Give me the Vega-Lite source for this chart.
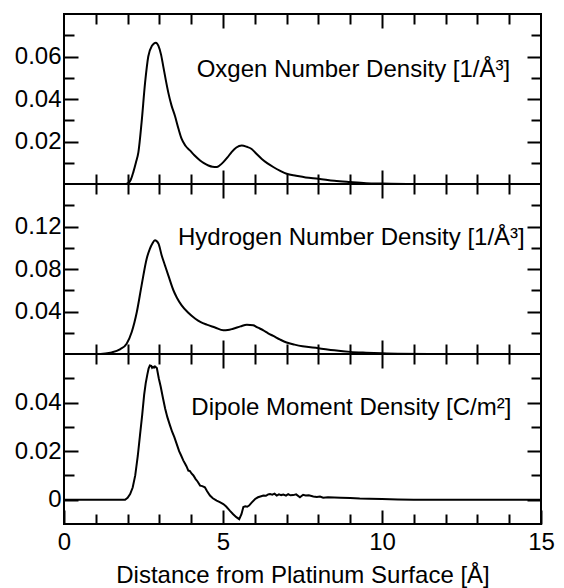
{
  "$schema": "https://vega.github.io/schema/vega-lite/v6.json",
  "padding": {"left": 13, "top": 12, "right": 0, "bottom": 0},
  "spacing": 0,
  "bounds": "flush",
  "config": {
    "view": {"stroke": "black", "strokeWidth": 2},
    "font": "Liberation Sans",
    "axis": {"domain": false, "grid": false, "tickColor": "black", "tickWidth": 2, "labelColor": "black", "labelFont": "Liberation Sans", "labelFontSize": 24, "titleFont": "Liberation Sans", "titleFontSize": 24, "titleFontWeight": "normal", "titleColor": "black", "labelOverlap": false, "labelFlush": false}
  },
  "datasets": {
    "oxygen": [
      {"x": 0, "v": 0}, {"x": 1, "v": 0}, {"x": 1.9, "v": 0}, {"x": 2.0, "v": 0.0003}, {"x": 2.1, "v": 0.002}, {"x": 2.18, "v": 0.0056}, {"x": 2.26, "v": 0.010}, {"x": 2.34, "v": 0.015}, {"x": 2.44, "v": 0.029}, {"x": 2.55, "v": 0.0477}, {"x": 2.65, "v": 0.060}, {"x": 2.76, "v": 0.0649}, {"x": 2.89, "v": 0.0665}, {"x": 2.97, "v": 0.065}, {"x": 3.05, "v": 0.061}, {"x": 3.12, "v": 0.0555}, {"x": 3.2, "v": 0.049}, {"x": 3.28, "v": 0.043}, {"x": 3.38, "v": 0.037}, {"x": 3.49, "v": 0.032}, {"x": 3.6, "v": 0.026}, {"x": 3.7, "v": 0.0212}, {"x": 3.82, "v": 0.018}, {"x": 3.96, "v": 0.0158}, {"x": 4.1, "v": 0.0135}, {"x": 4.28, "v": 0.0111}, {"x": 4.4, "v": 0.0098}, {"x": 4.54, "v": 0.0087}, {"x": 4.67, "v": 0.0081}, {"x": 4.8, "v": 0.008}, {"x": 4.9, "v": 0.0088}, {"x": 5.01, "v": 0.0103}, {"x": 5.14, "v": 0.0125}, {"x": 5.27, "v": 0.015}, {"x": 5.42, "v": 0.0172}, {"x": 5.59, "v": 0.0181}, {"x": 5.75, "v": 0.0175}, {"x": 5.9, "v": 0.0165}, {"x": 6.05, "v": 0.0142}, {"x": 6.22, "v": 0.0118}, {"x": 6.4, "v": 0.0097}, {"x": 6.58, "v": 0.008}, {"x": 6.8, "v": 0.0062}, {"x": 7.0, "v": 0.0048}, {"x": 7.3, "v": 0.0039}, {"x": 7.6, "v": 0.0031}, {"x": 8.0, "v": 0.0025}, {"x": 8.5, "v": 0.0015}, {"x": 9.0, "v": 0.0009}, {"x": 9.5, "v": 0.0004}, {"x": 10.0, "v": 0.0002}, {"x": 11.0, "v": 0}, {"x": 15, "v": 0}
    ],
    "hydrogen": [
      {"x": 0, "v": 0}, {"x": 1.0, "v": 0}, {"x": 1.3, "v": 0.0005}, {"x": 1.5, "v": 0.0015}, {"x": 1.76, "v": 0.0044}, {"x": 1.97, "v": 0.0097}, {"x": 2.13, "v": 0.0207}, {"x": 2.29, "v": 0.0395}, {"x": 2.44, "v": 0.0646}, {"x": 2.6, "v": 0.0897}, {"x": 2.7, "v": 0.099}, {"x": 2.78, "v": 0.104}, {"x": 2.86, "v": 0.107}, {"x": 2.97, "v": 0.104}, {"x": 3.07, "v": 0.093}, {"x": 3.18, "v": 0.083}, {"x": 3.28, "v": 0.074}, {"x": 3.44, "v": 0.06}, {"x": 3.55, "v": 0.053}, {"x": 3.7, "v": 0.0458}, {"x": 3.9, "v": 0.039}, {"x": 4.13, "v": 0.0332}, {"x": 4.3, "v": 0.03}, {"x": 4.49, "v": 0.0276}, {"x": 4.75, "v": 0.025}, {"x": 5.01, "v": 0.0223}, {"x": 5.15, "v": 0.0225}, {"x": 5.32, "v": 0.0238}, {"x": 5.55, "v": 0.026}, {"x": 5.75, "v": 0.0276}, {"x": 5.95, "v": 0.027}, {"x": 6.1, "v": 0.0248}, {"x": 6.27, "v": 0.0223}, {"x": 6.42, "v": 0.0195}, {"x": 6.58, "v": 0.017}, {"x": 6.8, "v": 0.0135}, {"x": 7.0, "v": 0.0108}, {"x": 7.25, "v": 0.0088}, {"x": 7.5, "v": 0.0072}, {"x": 8.0, "v": 0.0055}, {"x": 8.5, "v": 0.0035}, {"x": 9.0, "v": 0.002}, {"x": 9.5, "v": 0.0012}, {"x": 10.0, "v": 0.0006}, {"x": 10.5, "v": 0.0002}, {"x": 11.5, "v": 0}, {"x": 15, "v": 0}
    ],
    "dipole": [
      {"x": 0, "v": 0}, {"x": 1.92, "v": 0}, {"x": 2.0, "v": 0.0008}, {"x": 2.08, "v": 0.0023}, {"x": 2.16, "v": 0.005}, {"x": 2.24, "v": 0.01}, {"x": 2.32, "v": 0.018}, {"x": 2.39, "v": 0.0266}, {"x": 2.46, "v": 0.035}, {"x": 2.52, "v": 0.0432}, {"x": 2.57, "v": 0.048}, {"x": 2.62, "v": 0.0515}, {"x": 2.66, "v": 0.054}, {"x": 2.7, "v": 0.0553}, {"x": 2.74, "v": 0.0551}, {"x": 2.77, "v": 0.0543}, {"x": 2.8, "v": 0.0547}, {"x": 2.83, "v": 0.0544}, {"x": 2.86, "v": 0.0549}, {"x": 2.92, "v": 0.0542}, {"x": 2.98, "v": 0.05}, {"x": 3.04, "v": 0.0466}, {"x": 3.11, "v": 0.042}, {"x": 3.18, "v": 0.0376}, {"x": 3.25, "v": 0.034}, {"x": 3.33, "v": 0.0307}, {"x": 3.4, "v": 0.028}, {"x": 3.47, "v": 0.0258}, {"x": 3.54, "v": 0.0231}, {"x": 3.62, "v": 0.02}, {"x": 3.68, "v": 0.0183}, {"x": 3.75, "v": 0.0162}, {"x": 3.8, "v": 0.015}, {"x": 3.85, "v": 0.0138}, {"x": 3.91, "v": 0.012}, {"x": 3.96, "v": 0.0118}, {"x": 4.01, "v": 0.0108}, {"x": 4.07, "v": 0.01}, {"x": 4.14, "v": 0.0085}, {"x": 4.2, "v": 0.0075}, {"x": 4.28, "v": 0.0058}, {"x": 4.35, "v": 0.0056}, {"x": 4.43, "v": 0.0051}, {"x": 4.5, "v": 0.0035}, {"x": 4.59, "v": 0.0017}, {"x": 4.68, "v": 0.0006}, {"x": 4.8, "v": -0.0004}, {"x": 4.9, "v": -0.001}, {"x": 5.01, "v": -0.0018}, {"x": 5.1, "v": -0.0028}, {"x": 5.22, "v": -0.0046}, {"x": 5.32, "v": -0.006}, {"x": 5.42, "v": -0.0072}, {"x": 5.51, "v": -0.008}, {"x": 5.58, "v": -0.006}, {"x": 5.64, "v": -0.003}, {"x": 5.7, "v": -0.0027}, {"x": 5.76, "v": -0.0029}, {"x": 5.82, "v": -0.0024}, {"x": 5.9, "v": -0.0012}, {"x": 6.01, "v": 0.0003}, {"x": 6.1, "v": 0.001}, {"x": 6.2, "v": 0.0014}, {"x": 6.27, "v": 0.0017}, {"x": 6.35, "v": 0.0016}, {"x": 6.42, "v": 0.0022}, {"x": 6.48, "v": 0.0023}, {"x": 6.55, "v": 0.0021}, {"x": 6.62, "v": 0.0025}, {"x": 6.69, "v": 0.0017}, {"x": 6.76, "v": 0.0022}, {"x": 6.83, "v": 0.0019}, {"x": 6.9, "v": 0.0021}, {"x": 6.98, "v": 0.0017}, {"x": 7.05, "v": 0.0023}, {"x": 7.12, "v": 0.0018}, {"x": 7.21, "v": 0.0019}, {"x": 7.3, "v": 0.0022}, {"x": 7.42, "v": 0.001}, {"x": 7.48, "v": 0.0016}, {"x": 7.52, "v": 0.002}, {"x": 7.6, "v": 0.0017}, {"x": 7.7, "v": 0.0018}, {"x": 7.84, "v": 0.0013}, {"x": 7.95, "v": 0.0011}, {"x": 8.05, "v": 0.0013}, {"x": 8.15, "v": 0.0008}, {"x": 8.3, "v": 0.001}, {"x": 8.5, "v": 0.0009}, {"x": 8.7, "v": 0.0008}, {"x": 9.0, "v": 0.0007}, {"x": 9.3, "v": 0.0005}, {"x": 9.6, "v": 0.0004}, {"x": 10.0, "v": 0.0003}, {"x": 10.5, "v": 0.0001}, {"x": 11.0, "v": 0}, {"x": 15, "v": 0}
    ]
  },
  "vconcat": [
    {
      "width": 477, "height": 170,
      "layer": [
        {
          "data": {"name": "oxygen"},
          "mark": {"type": "line", "color": "black", "strokeWidth": 2, "interpolate": "monotone", "clip": true},
          "encoding": {
            "x": {"field": "x", "type": "quantitative", "scale": {"domain": [0, 15], "nice": false, "zero": false},
                  "axis": {"orient": "bottom", "values": [1,2,3,4,5,6,7,8,9,10,11,12,13,14], "labels": false, "title": null,
                           "tickSize": {"condition": {"test": "datum.value % 5 === 0", "value": -14}, "value": -10}}},
            "y": {"field": "v", "type": "quantitative", "scale": {"domain": [0, 0.08], "nice": false, "zero": false},
                  "axis": {"orient": "left", "values": [0.01,0.02,0.03,0.04,0.05,0.06,0.07], "title": null, "labelPadding": 17,
                           "labelExpr": "round(datum.value*100) % 2 === 0 ? format(datum.value, '.2f') : ''",
                           "tickSize": {"condition": {"test": "round(datum.value*100) % 2 === 0", "value": -14}, "value": -10}}}
          }
        },
        {
          "data": {"name": "oxygen"},
          "mark": {"type": "line", "opacity": 0},
          "encoding": {
            "x": {"field": "x", "type": "quantitative",
                  "axis": {"orient": "top", "values": [1,2,3,4,5,6,7,8,9,10,11,12,13,14], "labels": false, "title": null,
                           "tickSize": {"condition": {"test": "datum.value % 5 === 0", "value": -14}, "value": -10}}},
            "y": {"field": "v", "type": "quantitative",
                  "axis": {"orient": "right", "values": [0.01,0.02,0.03,0.04,0.05,0.06,0.07], "title": null, "labels": false,
                           "tickSize": {"condition": {"test": "round(datum.value*100) % 2 === 0", "value": -14}, "value": -10}}}
          }
        },
        {
          "data": {"values": [{"label": "Oxgen Number Density [1/Å³]"}]},
          "mark": {"type": "text", "align": "right", "baseline": "alphabetic", "fontSize": 24, "font": "Liberation Sans", "color": "black"},
          "encoding": {
            "x": {"datum": 14.03, "type": "quantitative", "axis": null},
            "y": {"datum": 0.0505, "type": "quantitative", "axis": null},
            "text": {"field": "label"}
          }
        }
      ],
      "resolve": {"axis": {"x": "independent", "y": "independent"}}
    },
    {
      "width": 477, "height": 170,
      "layer": [
        {
          "data": {"name": "hydrogen"},
          "mark": {"type": "line", "color": "black", "strokeWidth": 2, "interpolate": "monotone", "clip": true},
          "encoding": {
            "x": {"field": "x", "type": "quantitative", "scale": {"domain": [0, 15], "nice": false, "zero": false},
                  "axis": {"orient": "bottom", "values": [1,2,3,4,5,6,7,8,9,10,11,12,13,14], "labels": false, "title": null,
                           "tickSize": {"condition": {"test": "datum.value % 5 === 0", "value": -14}, "value": -10}}},
            "y": {"field": "v", "type": "quantitative", "scale": {"domain": [0, 0.16], "nice": false, "zero": false},
                  "axis": {"orient": "left", "values": [0.02,0.04,0.06,0.08,0.1,0.12,0.14], "title": null, "labelPadding": 17,
                           "labelExpr": "round(datum.value*100) % 4 === 0 ? format(datum.value, '.2f') : ''",
                           "tickSize": {"condition": {"test": "round(datum.value*100) % 4 === 0", "value": -14}, "value": -10}}}
          }
        },
        {
          "data": {"name": "hydrogen"},
          "mark": {"type": "line", "opacity": 0},
          "encoding": {
            "x": {"field": "x", "type": "quantitative",
                  "axis": {"orient": "top", "values": [1,2,3,4,5,6,7,8,9,10,11,12,13,14], "labels": false, "title": null,
                           "tickSize": {"condition": {"test": "datum.value % 5 === 0", "value": -14}, "value": -10}}},
            "y": {"field": "v", "type": "quantitative",
                  "axis": {"orient": "right", "values": [0.02,0.04,0.06,0.08,0.1,0.12,0.14], "title": null, "labels": false,
                           "tickSize": {"condition": {"test": "round(datum.value*100) % 4 === 0", "value": -14}, "value": -10}}}
          }
        },
        {
          "data": {"values": [{"label": "Hydrogen Number Density [1/Å³]"}]},
          "mark": {"type": "text", "align": "right", "baseline": "alphabetic", "fontSize": 24, "font": "Liberation Sans", "color": "black"},
          "encoding": {
            "x": {"datum": 14.49, "type": "quantitative", "axis": null},
            "y": {"datum": 0.1023, "type": "quantitative", "axis": null},
            "text": {"field": "label"}
          }
        }
      ],
      "resolve": {"axis": {"x": "independent", "y": "independent"}}
    },
    {
      "width": 477, "height": 170,
      "layer": [
        {
          "mark": {"type": "rule", "color": "#333333", "strokeWidth": 1},
          "encoding": {
            "y": {"datum": 0, "type": "quantitative", "axis": null}
          }
        },
        {
          "data": {"name": "dipole"},
          "mark": {"type": "line", "color": "black", "strokeWidth": 2, "clip": true},
          "encoding": {
            "x": {"field": "x", "type": "quantitative", "scale": {"domain": [0, 15], "nice": false, "zero": false},
                  "axis": {"orient": "bottom", "values": [0,1,2,3,4,5,6,7,8,9,10,11,12,13,14,15], "title": "Distance from Platinum Surface [Å]",
                           "labelPadding": 20, "titlePadding": 5,
                           "labelExpr": "datum.value % 5 === 0 ? datum.label : ''",
                           "tickSize": {"condition": {"test": "datum.value % 5 === 0", "value": -14}, "value": -10}}},
            "y": {"field": "v", "type": "quantitative", "scale": {"domain": [-0.01, 0.06], "nice": false, "zero": false},
                  "axis": {"orient": "left", "values": [0,0.01,0.02,0.03,0.04,0.05], "title": null, "labelPadding": 17,
                           "labelExpr": "datum.value === 0 ? '0' : (round(datum.value*100) % 2 === 0 ? format(datum.value, '.2f') : '')",
                           "tickSize": {"condition": {"test": "round(datum.value*100) % 2 === 0", "value": -14}, "value": -10}}}
          }
        },
        {
          "data": {"name": "dipole"},
          "mark": {"type": "line", "opacity": 0},
          "encoding": {
            "x": {"field": "x", "type": "quantitative",
                  "axis": {"orient": "top", "values": [1,2,3,4,5,6,7,8,9,10,11,12,13,14], "labels": false, "title": null,
                           "tickSize": {"condition": {"test": "datum.value % 5 === 0", "value": -14}, "value": -10}}},
            "y": {"field": "v", "type": "quantitative",
                  "axis": {"orient": "right", "values": [0,0.01,0.02,0.03,0.04,0.05], "title": null, "labels": false,
                           "tickSize": {"condition": {"test": "round(datum.value*100) % 2 === 0", "value": -14}, "value": -10}}}
          }
        },
        {
          "data": {"values": [{"label": "Dipole Moment Density [C/m²]"}]},
          "mark": {"type": "text", "align": "right", "baseline": "alphabetic", "fontSize": 24, "font": "Liberation Sans", "color": "black"},
          "encoding": {
            "x": {"datum": 14.07, "type": "quantitative", "axis": null},
            "y": {"datum": 0.0349, "type": "quantitative", "axis": null},
            "text": {"field": "label"}
          }
        }
      ],
      "resolve": {"axis": {"x": "independent", "y": "independent"}}
    }
  ]
}
